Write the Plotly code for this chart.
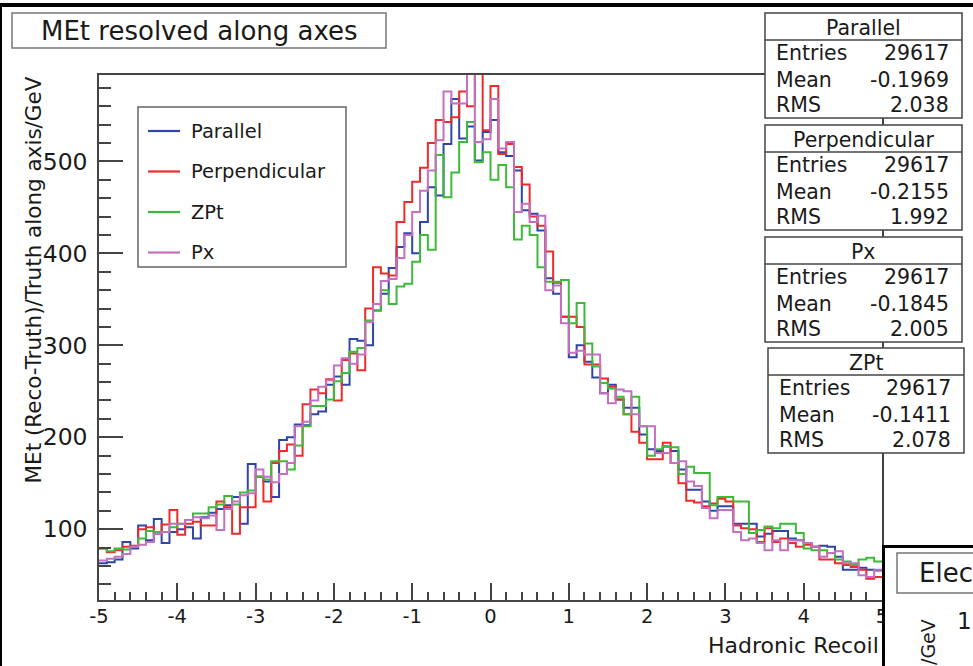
import plotly.graph_objects as go

# ---------------- data ----------------
X_MIN, X_MAX, N_BINS = -5.0, 5.0, 100

parallel = [
    63, 64, 67, 86, 79, 104, 88, 111, 85, 97,
    100, 102, 90, 113, 118, 122, 126, 135, 106, 171,
    157, 152, 135, 197, 200, 214, 213, 225, 228, 257,
    266, 257, 307, 305, 300, 338, 356, 384, 407, 422,
    400, 434, 472, 463, 519, 568, 525, 538, 501, 532,
    545, 510, 506, 490, 447, 443, 425, 373, 356, 331,
    287, 300, 282, 265, 248, 257, 241, 232, 232, 203,
    187, 185, 190, 185, 165, 143, 143, 130, 120, 125,
    125, 106, 106, 106, 92, 95, 98, 98, 90, 88,
    85, 81, 82, 81, 70, 56, 56, 58, 56, 55,
]
perpendicular = [
    79, 75, 77, 81, 82, 100, 102, 95, 105, 121,
    94, 106, 108, 104, 104, 130, 124, 95, 124, 124,
    157, 130, 172, 185, 192, 180, 236, 252, 248, 263,
    240, 284, 291, 273, 340, 385, 378, 376, 434, 456,
    478, 493, 520, 545, 543, 548, 576, 560, 610, 534,
    582, 508, 519, 494, 475, 440, 430, 402, 368, 331,
    331, 320, 279, 279, 264, 255, 241, 225, 206, 194,
    176, 176, 194, 172, 150, 131, 129, 125, 128, 133,
    130, 104, 101, 100, 86, 101, 86, 90, 85, 81,
    83, 81, 67, 67, 63, 61, 59, 56, 46, 48,
]
zpt = [
    79, 76, 79, 78, 81, 90, 98, 97, 97, 102,
    106, 110, 117, 117, 124, 127, 136, 127, 140, 142,
    157, 154, 174, 174, 165, 191, 212, 234, 234, 241,
    261, 270, 293, 297, 327, 338, 360, 345, 364, 367,
    391, 420, 404, 507, 461, 488, 521, 543, 499, 510,
    480, 496, 472, 415, 430, 420, 385, 369, 369, 371,
    324, 346, 302, 277, 259, 253, 244, 225, 244, 212,
    180, 187, 190, 189, 160, 168, 161, 161, 126, 135,
    135, 130, 130, 96, 99, 103, 101, 106, 106, 96,
    79, 77, 77, 74, 67, 65, 61, 67, 69, 65,
]
px_series = [
    66, 68, 70, 73, 81, 83, 86, 95, 97, 106,
    106, 110, 113, 112, 115, 99, 122, 130, 137, 139,
    165, 157, 151, 160, 172, 212, 217, 240, 255, 262,
    278, 286, 280, 290, 325, 345, 370, 372, 395, 420,
    445, 468, 490, 523, 576, 563, 563, 610, 521, 524,
    568, 514, 521, 445, 454, 434, 441, 360, 365, 324,
    292, 294, 290, 290, 248, 237, 252, 250, 225, 212,
    212, 183, 183, 172, 174, 152, 147, 123, 112, 121,
    121, 97, 88, 90, 85, 77, 88, 77, 88, 88,
    85, 81, 70, 74, 76, 63, 63, 50, 48, 56,
]

series_names = ["Parallel", "Perpendicular", "ZPt", "Px"]
series_values = [parallel, perpendicular, zpt, px_series]
series_colors = ["#2f45a8", "#ee2b2b", "#3dba3a", "#c46fbf"]

stats_titles = ["Parallel", "Perpendicular", "Px", "ZPt"]
stats_entries = ["29617", "29617", "29617", "29617"]
stats_means = ["-0.1969", "-0.2155", "-0.1845", "-0.1411"]
stats_rms = ["2.038", "1.992", "2.005", "2.078"]

x_tick_vals = [-5, -4, -3, -2, -1, 0, 1, 2, 3, 4, 5]
x_tick_text = ["-5", "-4", "-3", "-2", "-1", "0", "1", "2", "3", "4", "5"]
y_tick_vals = [100, 200, 300, 400, 500]
y_tick_text = ["100", "200", "300", "400", "500"]
Y_RANGE = [23, 594]

TITLE = "MEt resolved along axes"
X_TITLE = "Hadronic Recoil"
Y_TITLE = "MEt (Reco-Truth)/Truth along axis/GeV"

# ---------------- geometry helpers ----------------
W, H = 973, 666
ML, MR, MT, MB = 99, 91, 75, 66
PW, PH = W - ML - MR, H - MT - MB
FONT = "DejaVu Sans"
TXT = "#1a1a1a"


def xp(px):
    return (px - ML) / PW


def yp(py):
    return (H - MB - py) / PH


bin_w = (X_MAX - X_MIN) / N_BINS
edges = [X_MIN + i * bin_w for i in range(N_BINS + 1)]

fig = go.Figure()
for name, vals, col in zip(series_names, series_values, series_colors):
    fig.add_trace(go.Scatter(
        x=edges, y=list(vals) + [vals[-1]], mode="lines", name=name,
        line=dict(color=col, width=2, shape="hv"), showlegend=False,
        hoverinfo="skip"))

shapes = []
annots = []


def rect(x0, y0, x1, y1, fill="white", line="#555", lw=1.5, layer="above"):
    shapes.append(dict(type="rect", xref="paper", yref="paper",
                       x0=xp(x0), x1=xp(x1), y0=yp(y0), y1=yp(y1),
                       fillcolor=fill, line=dict(color=line, width=lw), layer=layer))


def hline(x0, x1, y, col="#555", lw=1.5):
    shapes.append(dict(type="line", xref="paper", yref="paper",
                       x0=xp(x0), x1=xp(x1), y0=yp(y), y1=yp(y),
                       line=dict(color=col, width=lw), layer="above"))


def text(s, x, y, size, xa="left", ya="middle", angle=0):
    annots.append(dict(text=s, xref="paper", yref="paper", x=xp(x), y=yp(y),
                       xanchor=xa, yanchor=ya, showarrow=False, textangle=angle,
                       font=dict(family=FONT, size=size, color=TXT)))


# outer canvas border
rect(0, 3, 973, 7, fill="black", line="black", lw=0)
rect(0, 3, 2, 666, fill="black", line="black", lw=0)

# title box
rect(12, 13, 386, 48, line="#777", lw=1.5)
text(TITLE, 199, 31, 26, xa="center")

# legend (box, line samples, labels)
rect(138, 107, 346, 267, line="#666", lw=1.5)
leg_rows = [131, 171.5, 212, 252.5]
for name, col, ry in zip(series_names, series_colors, leg_rows):
    hline(148, 180, ry, col=col, lw=2.2)
    text(name, 189, ry, 19.5)

# stats boxes
box_geo = [(765, 962, 13), (765, 962, 125), (765, 962, 237), (768, 964, 348)]
for (l, r, t), ttl, ent, mean, rms in zip(box_geo, stats_titles, stats_entries,
                                         stats_means, stats_rms):
    rect(l, t, r, t + 105, line="#444", lw=1.5)
    hline(l, r, t + 27, col="#444", lw=1.5)
    text(ttl, (l + r) / 2, t + 15, 20.5, xa="center")
    for lab, val, dy in zip(["Entries", "Mean", "RMS"], [ent, mean, rms], [40, 67, 92]):
        text(lab, l + 9, t + dy, 20.5)
        text(val, r - 11, t + dy, 20.5, xa="right")

# axis titles
text(Y_TITLE, 33, 75, 21.5, xa="center", ya="top", angle=-90)
text(X_TITLE, 881, 645, 22, xa="right")

# neighbouring pad in the lower right corner (only its visible corner)
rect(884, 546, 990, 680, fill="white", line="white", lw=0)
rect(882, 545, 885, 680, fill="black", line="black", lw=0)
rect(882, 545, 990, 548, fill="black", line="black", lw=0)
rect(897, 553, 1000, 593, line="#777", lw=1.5)
text("Elec", 917, 573, 26)
text("1", 955, 621, 23)
text("/GeV", 928, 617, 19, xa="center", ya="top", angle=-90)

fig.update_layout(
    width=W, height=H, margin=dict(l=ML, r=MR, t=MT, b=MB),
    paper_bgcolor="white", plot_bgcolor="white", showlegend=False,
    font=dict(family=FONT, color=TXT), shapes=shapes, annotations=annots)

axis_common = dict(showline=True, linecolor="#444", linewidth=1.5, mirror=True,
                   showgrid=False, zeroline=False, ticks="inside", tickcolor="#444",
                   tickwidth=1.5)
fig.update_xaxes(range=[X_MIN, X_MAX], tickmode="array", tickvals=x_tick_vals,
                 ticktext=x_tick_text, ticklen=17, tickfont=dict(size=19.5, family=FONT, color=TXT),
                 ticklabelstandoff=-2,
                 minor=dict(tickmode="linear", tick0=0, dtick=0.2, ticks="inside",
                            ticklen=8, tickcolor="#444", tickwidth=1.5, showgrid=False),
                 **axis_common)
fig.update_yaxes(range=Y_RANGE, tickmode="array", tickvals=y_tick_vals,
                 ticktext=y_tick_text, ticklen=24, tickfont=dict(size=23.5, family=FONT, color=TXT),
                 ticklabelstandoff=5,
                 minor=dict(tickmode="linear", tick0=0, dtick=20, ticks="inside",
                            ticklen=12, tickcolor="#444", tickwidth=1.5, showgrid=False),
                 **axis_common)

fig.write_html("out.html")
